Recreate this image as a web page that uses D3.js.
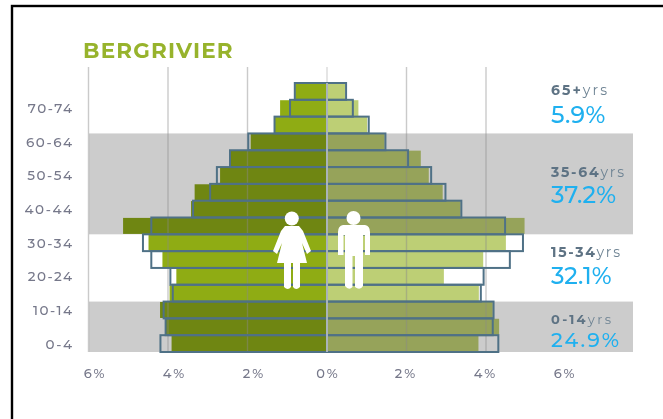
<!DOCTYPE html>
<html><head><meta charset="utf-8">
<script src="https://cdn.jsdelivr.net/npm/d3@7/dist/d3.min.js"></script>
<style>html,body{margin:0;padding:0;background:#fff}svg{display:block}text{font-family:Montserrat,"Open Sans","DejaVu Sans",sans-serif}</style>
</head><body><div id="c"></div>
<script>
const ageGroups=["0-4","5-9","10-14","15-19","20-24","25-29","30-34","35-39","40-44","45-49","50-54","55-59","60-64","65-69","70-74","75+"];
const femaleFill=[3.91,4.06,4.20,3.96,3.79,4.14,4.49,5.13,3.42,3.33,2.69,2.43,1.92,1.32,1.18,0.80];
const femaleOutline=[4.19,4.06,4.11,3.88,3.94,4.42,4.63,4.42,3.37,2.94,2.77,2.44,1.98,1.32,0.93,0.81];
const maleFill=[3.81,4.33,4.17,3.82,2.94,3.93,4.50,4.97,3.36,2.91,2.56,2.36,1.45,1.01,0.79,0.46];
const maleOutline=[4.31,4.17,4.19,3.87,3.94,4.60,4.93,4.48,3.38,2.98,2.62,2.04,1.47,1.05,0.65,0.48];
const ageLabels=["0-4","10-14","20-24","30-34","40-44","50-54","60-64","70-74"];
const xTicks=[-6,-4,-2,0,2,4,6];
const gridTicks=[-6,-4,-2,0,2,4];
const shadedGroups=[["0-4","10-14"],["35-39","60-64"]];
const summaryAges=["65+","35-64","15-34","0-14"];
const summaryShares=["5.9%","37.2%","32.1%","24.9%"];
const summaryY=[[95,123],[177,203],[257,283.5],[323.5,346.5]];
const summaryLabelWidths=[56,73,69,60];
const summaryLabelSizes=[14,14,14,13];
const summaryValueSizes=[23.5,23.5,23.5,20.5];
const summaryValueSpacing=[0.4,0,0,2];

const svg=d3.select("#c").append("svg").attr("width",663).attr("height",419);
const root=svg.append("g");
const x=d3.scaleLinear().domain([-6,6]).range([88.5,565.5]);
const y=d3.scaleBand().domain(ageGroups).range([352,83]).padding(0);
const shadedIdx=g=>shadedGroups.some(([a,b])=>{const i=ageGroups.indexOf(g);return i>=ageGroups.indexOf(a)&&i<=ageGroups.indexOf(b)});

root.append("rect").attr("x",12).attr("y",6).attr("width",700).attr("height",500).attr("fill","#fff").attr("stroke","#000").attr("stroke-width",2.4);
root.selectAll("rect.band").data(shadedGroups).join("rect").attr("class","band")
 .attr("x",89).attr("width",544).attr("y",d=>y(d[1])).attr("height",d=>y(d[0])+y.bandwidth()-y(d[1])).attr("fill","#cccccc");

const half=(vals,dir,sh,pl)=>root.append("g").selectAll("rect").data(ageGroups).join("rect")
 .attr("x",(d,i)=>dir<0?x(-vals[i]):x(0)).attr("width",(d,i)=>Math.abs(x(vals[i])-x(0)))
 .attr("y",d=>y(d)+0.4).attr("height",y.bandwidth()-0.8).attr("fill",d=>shadedIdx(d)?sh:pl);
half(femaleFill,-1,"#6f8612","#8fac14");
half(maleFill,1,"#96a35a","#bdcf75");

root.append("g").selectAll("line").data(gridTicks).join("line")
 .attr("x1",d=>x(d)).attr("x2",d=>x(d)).attr("y1",67).attr("y2",352)
 .attr("stroke",d=>d===0?"#d8d8d8":"#8a8a8a").attr("stroke-opacity",d=>d===0?0.95:0.45).attr("stroke-width",1.4);

const outline=(vals,dir)=>root.append("g").selectAll("rect").data(ageGroups).join("rect")
 .attr("x",(d,i)=>dir<0?x(-vals[i]):x(0)).attr("width",(d,i)=>Math.abs(x(vals[i])-x(0)))
 .attr("y",d=>y(d)).attr("height",y.bandwidth())
 .attr("fill","none").attr("stroke","#4f7186").attr("stroke-width",2);
outline(femaleOutline,-1);outline(maleOutline,1);
root.append("line").attr("x1",x(0)).attr("x2",x(0)).attr("y1",83).attr("y2",352).attr("stroke","#d0d0d0").attr("stroke-width",1.4);

// Figures
const fem=root.append("g").attr("fill","#fff");
fem.append("circle").attr("cx",291.8).attr("cy",218.5).attr("r",7);
fem.append("path").attr("d","M285 226H299L303 231L311 251L307 254L302 243L307 263H300V287Q296 291 293 287V263H291V287Q288 291 284 287V263H277L282 243L277 254L273 251L281 231Z");
const mal=root.append("g").attr("fill","#fff");
mal.append("circle").attr("cx",353.5).attr("cy",218).attr("r",7);
mal.append("path").attr("d","M343 225H365Q370 226 370 232V255H365V235H363V255V286Q360 291 355 287V256H352.5V287Q349 291 345 286V255V235H343.5V255H338V232Q338 226 343 225Z");

root.append("text").attr("x",83).attr("y",58).attr("font-size",21.5).attr("letter-spacing",1.2).attr("font-weight",700).attr("fill","#97b32c").text("BERGRIVIER");
root.append("g").selectAll("text").data(ageLabels).join("text").attr("x",73.5).attr("text-anchor","end")
 .attr("y",d=>y(d)+y.bandwidth()/2+5).attr("font-size",13.5).attr("letter-spacing",1.5).attr("font-weight",500).attr("fill","#76788a").text(d=>d);
root.append("g").selectAll("text").data(xTicks).join("text").attr("text-anchor","middle")
 .attr("x",d=>x(d)+(d<0?6.5:d>0?-.5:1)).attr("y",378).attr("font-size",13).attr("letter-spacing",2).attr("font-weight",500).attr("fill","#76788a").text(d=>Math.abs(d)+"%");

summaryAges.forEach((a,i)=>{
 const t=root.append("text").attr("x",551).attr("y",summaryY[i][0]).attr("font-size",summaryLabelSizes[i]).attr("fill","#5e7384")
  .attr("textLength",summaryLabelWidths[i]).attr("lengthAdjust","spacing");
 t.append("tspan").attr("font-weight",700).text(a);
 t.append("tspan").attr("fill","#6f8494").text("yrs");
 root.append("text").attr("x",551).attr("y",summaryY[i][1]).attr("font-size",summaryValueSizes[i]).attr("letter-spacing",summaryValueSpacing[i]).attr("font-weight",500).attr("fill","#1fb0ef").text(summaryShares[i]);
});
root.attr("style","filter:blur(0.6px)");
</script></body></html>
